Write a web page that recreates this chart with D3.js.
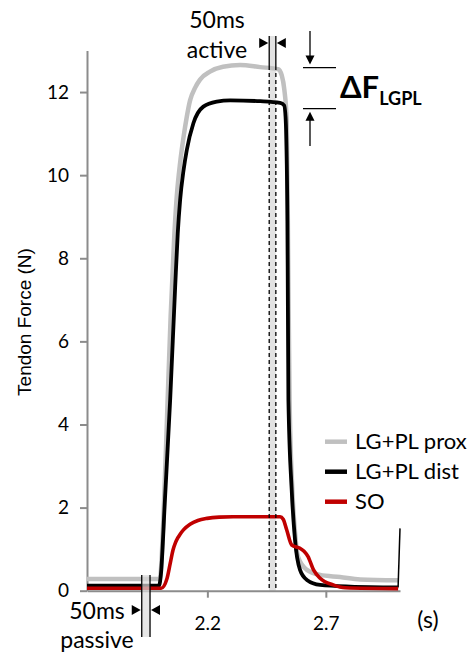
<!DOCTYPE html>
<html>
<head>
<meta charset="utf-8">
<script src="https://cdn.jsdelivr.net/npm/d3@7"></script>
<style>
  html, body { margin: 0; padding: 0; background: #fff; }
  svg { display: block; }
</style>
</head>
<body>
<script>
// ---------------- data ----------------
const proxTime  = [1.692, 1.999, 2.015, 2.030, 2.045, 2.060, 2.071, 2.085, 2.099, 2.113, 2.127, 2.148, 2.169, 2.211, 2.266, 2.338, 2.423, 2.499, 2.514, 2.525, 2.535, 2.541, 2.547, 2.558, 2.570, 2.583, 2.620, 2.676, 2.760, 2.845, 3.005];
const proxForce = [0.28, 0.28, 1.8, 4.2, 6.6, 8.5, 9.5, 10.3, 10.9, 11.4, 11.8, 12.1, 12.3, 12.49, 12.61, 12.65, 12.6, 12.55, 12.4, 12.05, 11.3, 8.0, 4.6, 2.5, 1.4, 0.81, 0.5, 0.38, 0.33, 0.27, 0.25];

const distTime  = [1.692, 1.996, 2.004, 2.021, 2.043, 2.064, 2.075, 2.085, 2.099, 2.113, 2.141, 2.183, 2.240, 2.296, 2.423, 2.507, 2.524, 2.530, 2.538, 2.542, 2.556, 2.570, 2.591, 2.620, 2.676, 2.803, 3.005, 3.013];
const distForce = [0.12, 0.12, 0.4, 2.2, 4.6, 7.3, 8.6, 9.4, 10.1, 10.6, 11.25, 11.65, 11.77, 11.8, 11.78, 11.74, 11.68, 11.4, 8.9, 4.6, 2.42, 1.22, 0.5, 0.26, 0.14, 0.1, 0.08, 1.5];

const soTime  = [1.692, 2.005, 2.030, 2.043, 2.055, 2.065, 2.075, 2.085, 2.100, 2.127, 2.160, 2.199, 2.250, 2.309, 2.507, 2.520, 2.535, 2.556, 2.591, 2.608, 2.625, 2.648, 2.676, 2.731, 2.782, 3.005];
const soForce = [0.06, 0.06, 0.3, 0.65, 0.98, 1.15, 1.27, 1.36, 1.47, 1.6, 1.69, 1.74, 1.77, 1.78, 1.78, 1.72, 1.46, 1.1, 1.02, 0.95, 0.82, 0.5, 0.3, 0.14, 0.07, 0.05];

const seriesNames  = ["LG+PL prox", "LG+PL dist", "SO"];
const seriesColors = ["#c0c0c0", "#000000", "#c00000"];

const yTicks = [0, 2, 4, 6, 8, 10, 12];
const xTicks = [2.2, 2.7];
const xTickLabels = ["2.2", "2.7"];

const activeWindow  = [2.461, 2.489];
const passiveWindow = [1.923, 1.958];
const deltaLevels   = [12.59, 11.6];

// ---------------- chart ----------------
const W = 470, H = 652;
const svg = d3.select("body").append("svg").attr("width", W).attr("height", H);

const x = d3.scaleLinear().domain([1.692, 3.013]).range([87, 400]);
const y = d3.scaleLinear().domain([0, 13]).range([590.7, 50.5]);

const FONT = "Lato, 'Open Sans', sans-serif";
const axisColor = "#8c8c8c";

// active window band (below curves)
svg.append("rect")
  .attr("x", x(activeWindow[0])).attr("width", x(activeWindow[1]) - x(activeWindow[0]))
  .attr("y", 36).attr("height", y(0) - 36)
  .attr("fill", "#e2e2e2");

// axes
const yAxis = d3.axisLeft(y).tickValues(yTicks).tickSize(7).tickSizeOuter(0).tickPadding(11)
  .tickFormat(d3.format("d"));
const gy = svg.append("g").attr("transform", `translate(${x.range()[0]},0)`).call(yAxis);
const xAxis = d3.axisBottom(x).tickValues(xTicks).tickSize(7).tickSizeOuter(0).tickPadding(19)
  .tickFormat((d, i) => xTickLabels[i]);
const gx = svg.append("g").attr("transform", `translate(0,${y(0)})`).call(xAxis);

[gy, gx].forEach(g => {
  g.select(".domain").attr("stroke", axisColor).attr("stroke-width", 2);
  g.selectAll(".tick line").attr("stroke", axisColor).attr("stroke-width", 2);
  g.selectAll(".tick text").attr("fill", "#000").style("font-family", FONT).style("font-size", "19px");
});

// curves
const line = d3.line().x(d => x(d[0])).y(d => y(d[1])).curve(d3.curveMonotoneX);
const series = [
  { t: proxTime, v: proxForce, w: 4.5 },
  { t: distTime, v: distForce, w: 3.8 },
  { t: soTime,   v: soForce,   w: 3.6 }
];
series.forEach((s, i) => {
  const pts = s.t.map((t, j) => [t, s.v[j]]);
  // the final end-of-record spike of the distal trace is drawn as a thin stroke
  const body = i === 1 ? pts.slice(0, -1) : pts;
  svg.append("path").datum(body)
    .attr("d", line)
    .attr("fill", "none")
    .attr("stroke", seriesColors[i])
    .attr("stroke-width", s.w)
    .attr("stroke-linejoin", "round");
  if (i === 1) {
    svg.append("path").datum(pts.slice(-2))
      .attr("d", d3.line().x(d => x(d[0])).y(d => y(d[1])))
      .attr("fill", "none").attr("stroke", "#000").attr("stroke-width", 1.5);
  }
});

// active window lines
activeWindow.forEach(t => {
  svg.append("line").attr("x1", x(t)).attr("x2", x(t)).attr("y1", 36).attr("y2", 66)
    .attr("stroke", "#000").attr("stroke-width", 1.3);
  svg.append("line").attr("x1", x(t)).attr("x2", x(t)).attr("y1", 66).attr("y2", y(0))
    .attr("stroke", "#000").attr("stroke-width", 1.3).attr("stroke-dasharray", "4,3");
});

// passive window band (over curves) and lines
svg.append("rect")
  .attr("x", x(passiveWindow[0])).attr("width", x(passiveWindow[1]) - x(passiveWindow[0]))
  .attr("y", 575).attr("height", 62)
  .attr("fill", "#dcdcdc").attr("opacity", 0.7);
passiveWindow.forEach(t => {
  svg.append("line").attr("x1", x(t)).attr("x2", x(t)).attr("y1", 575).attr("y2", 637)
    .attr("stroke", "#000").attr("stroke-width", 1.3);
});

// window arrowheads
function windowArrows(win, cy) {
  const xl = x(win[0]), xr = x(win[1]);
  svg.append("path").attr("d", `M${xl - 10},${cy - 5} L${xl - 1},${cy} L${xl - 10},${cy + 5} Z`).attr("fill", "#000");
  svg.append("path").attr("d", `M${xr + 10},${cy - 5} L${xr + 1},${cy} L${xr + 10},${cy + 5} Z`).attr("fill", "#000");
}
windowArrows(activeWindow, 43);
windowArrows(passiveWindow, 610);

// delta F annotation
const dx1 = 303, dx2 = 336, ax = 310;
deltaLevels.forEach(v => {
  svg.append("line").attr("x1", dx1).attr("x2", dx2).attr("y1", y(v)).attr("y2", y(v))
    .attr("stroke", "#000").attr("stroke-width", 1.3);
});
svg.append("line").attr("x1", ax).attr("x2", ax).attr("y1", 31).attr("y2", y(deltaLevels[0]) - 8)
  .attr("stroke", "#000").attr("stroke-width", 1.3);
svg.append("path").attr("d", `M${ax - 4.5},${y(deltaLevels[0]) - 12} L${ax + 4.5},${y(deltaLevels[0]) - 12} L${ax},${y(deltaLevels[0]) - 3} Z`).attr("fill", "#000");
svg.append("line").attr("x1", ax).attr("x2", ax).attr("y1", 146).attr("y2", y(deltaLevels[1]) + 8)
  .attr("stroke", "#000").attr("stroke-width", 1.3);
svg.append("path").attr("d", `M${ax - 4.5},${y(deltaLevels[1]) + 12} L${ax + 4.5},${y(deltaLevels[1]) + 12} L${ax},${y(deltaLevels[1]) + 3} Z`).attr("fill", "#000");

const dt = svg.append("text").attr("x", 340).attr("y", 98)
  .style("font-family", FONT).style("font-weight", "bold").attr("fill", "#000");
dt.append("tspan").text("ΔF").style("font-size", "31px");
dt.append("tspan").text("LGPL").attr("dy", 7).style("font-size", "18px");

// text annotations
function label(txt, cx, by, size, anchor) {
  svg.append("text").attr("x", cx).attr("y", by).attr("text-anchor", anchor || "middle")
    .style("font-family", FONT).style("font-size", size + "px").attr("fill", "#000").text(txt);
}
label("50ms", 217, 28, 23);
label("active", 217, 58, 23);
label("50ms", 97, 619, 23);
label("passive", 97, 648, 23);
label("(s)", 428, 628, 23);

// y axis title
svg.append("text")
  .attr("transform", `translate(31,322) rotate(-90)`)
  .attr("text-anchor", "middle")
  .style("font-family", "'Liberation Sans', Arial, sans-serif").style("font-size", "19px")
  .attr("fill", "#000").text("Tendon Force (N)");

// legend
const legY = [441.7, 471.7, 501.7];
seriesNames.forEach((n, i) => {
  svg.append("line").attr("x1", 325).attr("x2", 347).attr("y1", legY[i]).attr("y2", legY[i])
    .attr("stroke", seriesColors[i]).attr("stroke-width", 4.5);
  svg.append("text").attr("x", 355).attr("y", legY[i]).attr("dy", "0.35em")
    .style("font-family", FONT).style("font-size", "22px").attr("fill", "#000").text(n);
});
</script>
</body>
</html>
